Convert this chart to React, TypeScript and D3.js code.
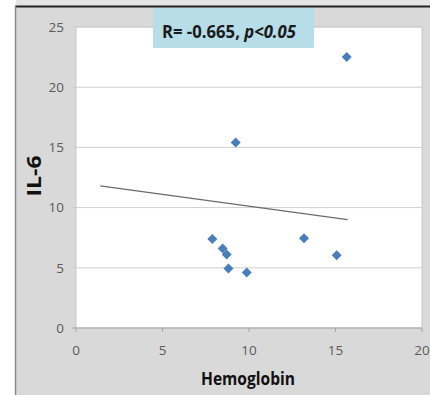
import React from "react";
import * as d3 from "d3";

const hemoglobin = [15.65, 9.23, 7.88, 8.48, 8.71, 8.81, 9.87, 13.18, 15.07];
const il6 = [22.5, 15.4, 7.4, 6.6, 6.1, 4.95, 4.6, 7.45, 6.05];
const trendX = [1.4, 15.7];
const trendY = [11.8, 9.0];
const xTicks = [0, 5, 10, 15, 20];
const yTicks = [0, 5, 10, 15, 20, 25];
const annotation = ["R= -0.665, ", "p<0.05"];
const xTitle = "Hemoglobin";
const yTitle = "IL-6";

const W = 430;
const H = 395;
const plot = { left: 76, right: 422, top: 27, bottom: 328 };
const font = "'Open Sans', 'Liberation Sans', sans-serif";

export default function App() {
  const x = d3.scaleLinear().domain([0, 20]).range([plot.left, plot.right]);
  const y = d3.scaleLinear().domain([0, 25]).range([plot.bottom, plot.top]);
  const diamond = d3.symbol().type(d3.symbolSquare).size(50)();
  const line = d3
    .line<number>()
    .x((d) => x(d))
    .y((_, i) => y(trendY[i]));

  return (
    <svg
      width={W}
      height={H}
      style={{ position: "absolute", left: 0, top: 0, display: "block" }}
    >
      <rect x={0} y={0} width={W} height={H} fill="#ffffff" />
      <rect x={16} y={0} width={W - 16} height={H} fill="#d9d9d9" />
      <rect x={16} y={0} width={W - 16} height={6} fill="#e4e4e4" />
      <line x1={15} x2={W} y1={6.5} y2={6.5} stroke="#222" strokeWidth={2} />
      <line x1={15.5} x2={15.5} y1={6} y2={H} stroke="#8a8a8a" strokeWidth={1.5} />

      <rect
        x={plot.left}
        y={plot.top}
        width={plot.right - plot.left}
        height={plot.bottom - plot.top}
        fill="#ffffff"
        stroke="#c8c8c8"
        strokeWidth={1}
      />
      {yTicks.map((t) => (
        <g key={"y" + t}>
          <line
            x1={plot.left - 4}
            x2={plot.right}
            y1={y(t)}
            y2={y(t)}
            stroke={t === 0 ? "#a6a6a6" : "#cfcfcf"}
            strokeWidth={1}
          />
          <text
            x={plot.left - 12}
            y={y(t)}
            dy="0.36em"
            textAnchor="end"
            fontFamily={font}
            fontSize={13.5}
            fill="#595959"
          >
            {t}
          </text>
        </g>
      ))}
      {xTicks.map((t) => (
        <g key={"x" + t}>
          <line x1={x(t)} x2={x(t)} y1={plot.bottom} y2={plot.bottom + 4} stroke="#a6a6a6" />
          <text
            x={x(t)}
            y={plot.bottom + 27}
            textAnchor="middle"
            fontFamily={font}
            fontSize={13.5}
            fill="#595959"
          >
            {t}
          </text>
        </g>
      ))}

      <path d={line(trendX) || ""} fill="none" stroke="#6b6b6b" strokeWidth={1.2} />

      {hemoglobin.map((h, i) => (
        <path
          key={i}
          d={diamond || ""}
          transform={`translate(${x(h)},${y(il6[i])}) rotate(45)`}
          fill="#4a7ebb"
        />
      ))}

      <rect x={153} y={8} width={161} height={40} fill="#b7dde8" />
      <text
        x={162}
        y={37.5}
        textLength={134}
        lengthAdjust="spacingAndGlyphs"
        fontFamily={font}
        fontSize={17}
        fontWeight="bold"
        fill="#1a1a1a"
      >
        {annotation[0]}
        <tspan fontStyle="italic">{annotation[1]}</tspan>
      </text>

      <text
        x={248}
        y={385}
        textAnchor="middle"
        textLength={94}
        lengthAdjust="spacingAndGlyphs"
        fontFamily={font}
        fontSize={18}
        fontWeight="bold"
        fill="#111"
      >
        {xTitle}
      </text>
      <text
        transform={`translate(41,176) rotate(-90)`}
        textAnchor="middle"
        textLength={41}
        lengthAdjust="spacingAndGlyphs"
        fontFamily={font}
        fontSize={19}
        fontWeight="bold"
        fill="#111"
      >
        {yTitle}
      </text>
    </svg>
  );
}
